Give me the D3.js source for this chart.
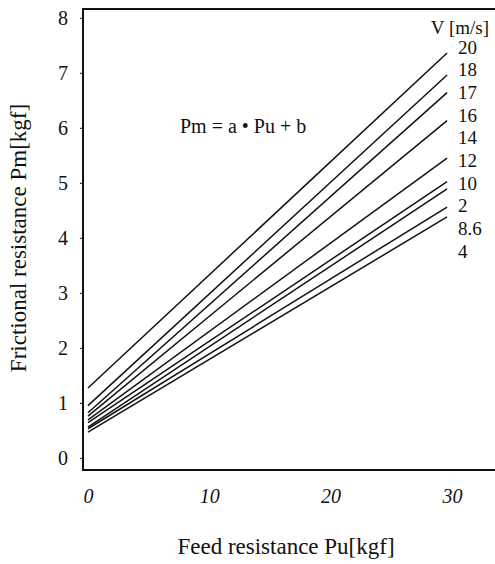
<!DOCTYPE html>
<html>
<head>
<meta charset="utf-8">
<script src="https://cdn.jsdelivr.net/npm/d3@7"></script>
<style>
  body { margin: 0; background: #fff; }
  svg { display: block; }
  svg text { font-family: "Liberation Serif", "DejaVu Serif", serif; fill: #111; }
</style>
</head>
<body>
<div class="bg"></div>
<script>
const width = 495;
const height = 564;
const serif = "Liberation Serif";

// fitted lines Pm = a*Pu + b, one per air speed V
const speeds = ["20", "18", "17", "16", "12", "10", "2", "8.6", "4"];
const pmAtStart = [1.27, 0.95, 0.82, 0.76, 0.69, 0.64, 0.56, 0.53, 0.47];
const pmAtEnd = [7.36, 6.96, 6.64, 6.13, 5.45, 5.02, 4.89, 4.56, 4.38];
const puStart = 0;
const puEnd = 29.6;

// label column on the right (14 has no drawn line in the original)
const speedLabels = ["20", "18", "17", "16", "14", "12", "10", "2", "8.6", "4"];

const xTicks = [0, 10, 20, 30];
const yTicks = [0, 1, 2, 3, 4, 5, 6, 7, 8];

const svg = d3.select(".bg").append("svg")
  .attr("width", width)
  .attr("height", height);

const xScale = d3.scaleLinear().domain([-0.41, 33.55]).range([83, 495]);
const yScale = d3.scaleLinear().domain([-0.22, 8.16]).range([470, 9]);

// frame: left axis, top line, bottom line
const frame = svg.append("g").attr("stroke", "#111").attr("stroke-width", 2).attr("fill", "none");
frame.append("line")
  .attr("x1", xScale.range()[0]).attr("x2", xScale.range()[0])
  .attr("y1", yScale.range()[1] - 1).attr("y2", yScale.range()[0] + 1);
frame.append("line")
  .attr("x1", xScale.range()[0]).attr("x2", xScale.range()[1])
  .attr("y1", yScale.range()[1]).attr("y2", yScale.range()[1]);
frame.append("line")
  .attr("x1", xScale.range()[0]).attr("x2", xScale.range()[1])
  .attr("y1", yScale.range()[0]).attr("y2", yScale.range()[0]);

// y axis ticks
const yAxis = d3.axisLeft(yScale).tickValues(yTicks).tickSize(3).tickPadding(12).tickFormat(d3.format("d"));
const gy = svg.append("g")
  .attr("transform", "translate(" + xScale.range()[0] + ",0)")
  .call(yAxis);
gy.select(".domain").remove();
gy.attr("font-family", serif);
gy.selectAll("text").attr("font-size", 20).attr("font-family", serif);
gy.selectAll("line").attr("stroke", "#111");

// x axis labels (italic, no tick marks)
const xAxis = d3.axisBottom(xScale).tickValues(xTicks).tickSize(0).tickPadding(19).tickFormat(d3.format("d"));
const gx = svg.append("g")
  .attr("transform", "translate(0," + yScale.range()[0] + ")")
  .call(xAxis);
gx.select(".domain").remove();
gx.attr("font-family", serif);
gx.selectAll("text").attr("font-size", 20).attr("font-style", "italic").attr("font-family", serif);

// the lines
const series = speeds.map((v, i) => ({
  v: v,
  pts: [[puStart, pmAtStart[i]], [puEnd, pmAtEnd[i]]]
}));

const line = d3.line().x(d => xScale(d[0])).y(d => yScale(d[1]));

svg.append("g").selectAll("path")
  .data(series)
  .enter().append("path")
  .attr("d", d => line(d.pts))
  .attr("fill", "none")
  .attr("stroke", "#111")
  .attr("stroke-width", 1.5);

// V legend column
svg.append("text")
  .attr("x", 489).attr("y", 34)
  .attr("text-anchor", "end")
  .attr("font-family", serif)
  .attr("font-size", 19)
  .text("V [m/s]");

svg.append("g").selectAll("text")
  .data(speedLabels)
  .enter().append("text")
  .attr("x", 458)
  .attr("y", (d, i) => 53.5 + i * 22.7)
  .attr("font-family", serif)
  .attr("font-size", 19)
  .text(d => d);

// formula
svg.append("text")
  .attr("x", 180).attr("y", 133)
  .attr("font-family", serif)
  .attr("font-size", 20)
  .text("Pm = a • Pu + b");

// axis titles
svg.append("text")
  .attr("x", 286).attr("y", 554)
  .attr("text-anchor", "middle")
  .attr("font-family", serif)
  .attr("font-size", 23)
  .text("Feed resistance Pu[kgf]");

svg.append("text")
  .attr("transform", "translate(26,238) rotate(-90)")
  .attr("text-anchor", "middle")
  .attr("font-family", serif)
  .attr("font-size", 23)
  .text("Frictional resistance Pm[kgf]");
</script>
</body>
</html>
